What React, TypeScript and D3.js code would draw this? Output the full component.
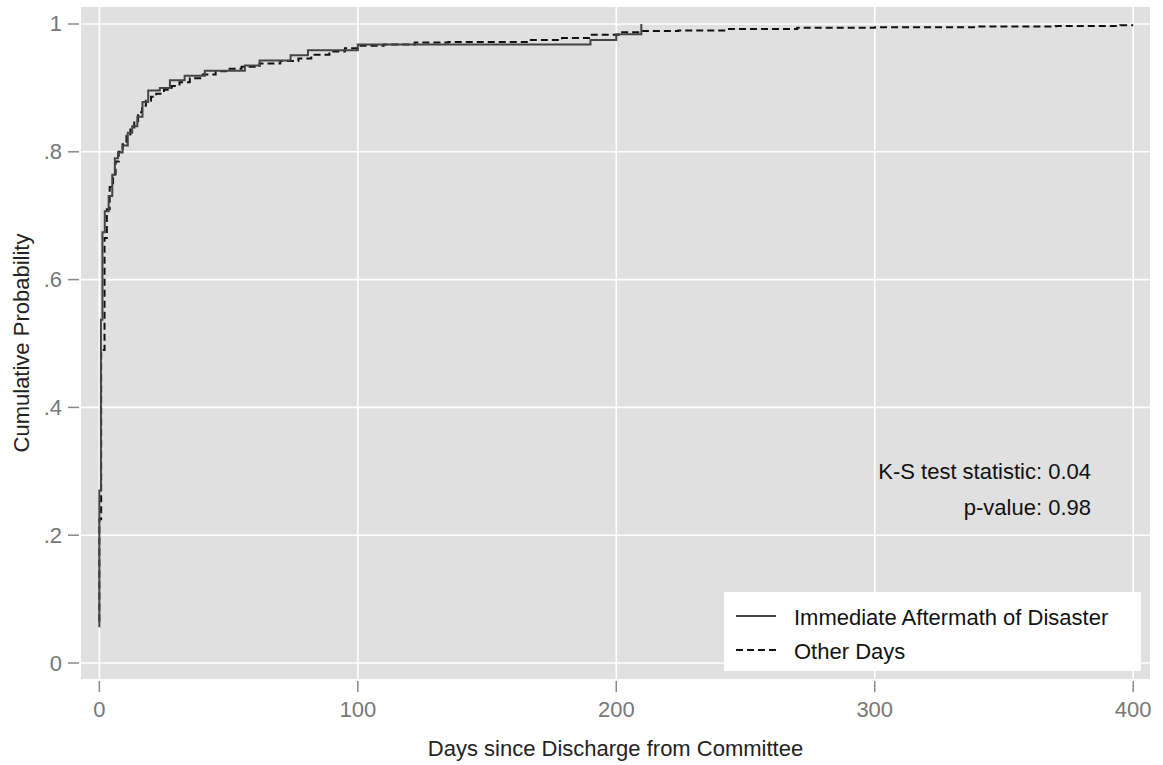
import React from "react";
import * as d3 from "d3";

// ECDF step points (days, cumulative probability)
const aftermathDays = [0, 0, 0.6, 1.2, 2.1, 3.6, 5, 6, 7.2, 9, 11, 12.7, 14.7, 16.7, 18.9, 23.4, 27.3, 33, 40.8, 56.3, 62, 74, 80.7, 100, 190, 200, 209.7];
const aftermathCum = [0.056, 0.27, 0.537, 0.674, 0.707, 0.731, 0.764, 0.79, 0.799, 0.81, 0.83, 0.84, 0.855, 0.878, 0.896, 0.9, 0.912, 0.919, 0.927, 0.935, 0.943, 0.951, 0.959, 0.968, 0.975, 0.984, 1.0];

const otherDays = [0, 0, 0.7, 2, 2.9, 4, 5.3, 6.3, 7.5, 9, 10.5, 12, 13.5, 15, 16.5, 18, 20, 22, 25, 28, 31, 35, 40, 45, 50, 55, 62, 70, 77, 82, 89, 95, 100, 110, 122, 135, 166, 179, 190, 201, 210, 224, 243, 270, 300, 340, 370, 395, 400];
const otherCum = [0.065, 0.225, 0.49, 0.665, 0.71, 0.745, 0.765, 0.785, 0.8, 0.812, 0.825, 0.838, 0.848, 0.862, 0.872, 0.88, 0.886, 0.891, 0.897, 0.903, 0.909, 0.915, 0.921, 0.926, 0.93, 0.933, 0.938, 0.942, 0.946, 0.952, 0.957, 0.962, 0.966, 0.968, 0.971, 0.972, 0.975, 0.978, 0.983, 0.987, 0.989, 0.99, 0.992, 0.994, 0.995, 0.996, 0.997, 0.998, 0.998];

const xTicks = [0, 100, 200, 300, 400];
const yTicks = [0, 0.2, 0.4, 0.6, 0.8, 1];
const yTickLabels = ["0", ".2", ".4", ".6", ".8", "1"];
const legendLabels = ["Immediate Aftermath of Disaster", "Other Days"];
const statLines = ["K-S test statistic: 0.04", "p-value: 0.98"];

const W = 1163;
const H = 765;
const panel = { left: 81, right: 1150, top: 7, bottom: 679 };
const font = "'Liberation Sans', Arial, Helvetica, sans-serif";

export default function App() {
  const x = d3.scaleLinear().domain([-7.1, 406.5]).range([panel.left, panel.right]);
  const y = d3.scaleLinear().domain([-0.025, 1.0266]).range([panel.bottom, panel.top]);

  const line = d3
    .line<[number, number]>()
    .x((d) => x(d[0]))
    .y((d) => y(d[1]))
    .curve(d3.curveStepAfter);

  const solidPts = aftermathDays.map((d, i) => [d, aftermathCum[i]] as [number, number]);
  const dashPts = otherDays.map((d, i) => [d, otherCum[i]] as [number, number]);

  return (
    <div style={{ position: "absolute", left: 0, top: 0 }}>
      <svg width={W} height={H} style={{ display: "block", background: "#fff" }} fontFamily={font}>
        <rect x={panel.left} y={panel.top} width={panel.right - panel.left} height={panel.bottom - panel.top} fill="#e0e0e0" />
        {/* gridlines */}
        {xTicks.map((t) => (
          <line key={"gx" + t} x1={x(t)} x2={x(t)} y1={panel.top} y2={panel.bottom} stroke="#fff" strokeWidth={1.6} />
        ))}
        {yTicks.map((t) => (
          <line key={"gy" + t} x1={panel.left} x2={panel.right} y1={y(t)} y2={y(t)} stroke="#fff" strokeWidth={1.6} />
        ))}
        {/* ticks + labels */}
        {xTicks.map((t) => (
          <g key={"tx" + t}>
            <line x1={x(t)} x2={x(t)} y1={681} y2={692} stroke="#888" strokeWidth={1.5} />
            <text x={x(t)} y={709} textAnchor="middle" dominantBaseline="central" fontSize={22} fill="#777">
              {t}
            </text>
          </g>
        ))}
        {yTicks.map((t, i) => (
          <g key={"ty" + t}>
            <line x1={68} x2={79} y1={y(t)} y2={y(t)} stroke="#888" strokeWidth={1.5} />
            <text x={62} y={y(t)} textAnchor="end" dominantBaseline="central" fontSize={22} fill="#777">
              {yTickLabels[i]}
            </text>
          </g>
        ))}
        {/* axis titles */}
        <text x={(panel.left + panel.right) / 2} y={748} textAnchor="middle" dominantBaseline="central" fontSize={22} fill="#222">
          Days since Discharge from Committee
        </text>
        <text
          transform={`translate(21,${(panel.top + panel.bottom) / 2}) rotate(-90)`}
          textAnchor="middle"
          dominantBaseline="central"
          fontSize={22}
          fill="#222"
        >
          Cumulative Probability
        </text>
        {/* ECDF lines */}
        <path d={line(dashPts) || ""} fill="none" stroke="#111" strokeWidth={2} strokeDasharray="7,4" />
        <path d={line(solidPts) || ""} fill="none" stroke="#444" strokeWidth={2} />
        {/* test annotation */}
        {statLines.map((s, i) => (
          <text key={s} x={1091} y={471 + i * 36} textAnchor="end" dominantBaseline="central" fontSize={22} fill="#111">
            {s}
          </text>
        ))}
        {/* legend */}
        <rect x={724} y={592} width={417} height={79} fill="#fff" />
        {legendLabels.map((l, i) => (
          <g key={l}>
            <line
              x1={736}
              x2={776}
              y1={616 + i * 34}
              y2={616 + i * 34}
              stroke={i === 0 ? "#444" : "#111"}
              strokeWidth={2}
              strokeDasharray={i === 0 ? undefined : "7,4"}
            />
            <text x={794} y={617 + i * 34} dominantBaseline="central" fontSize={22} fill="#111">
              {l}
            </text>
          </g>
        ))}
      </svg>
    </div>
  );
}
